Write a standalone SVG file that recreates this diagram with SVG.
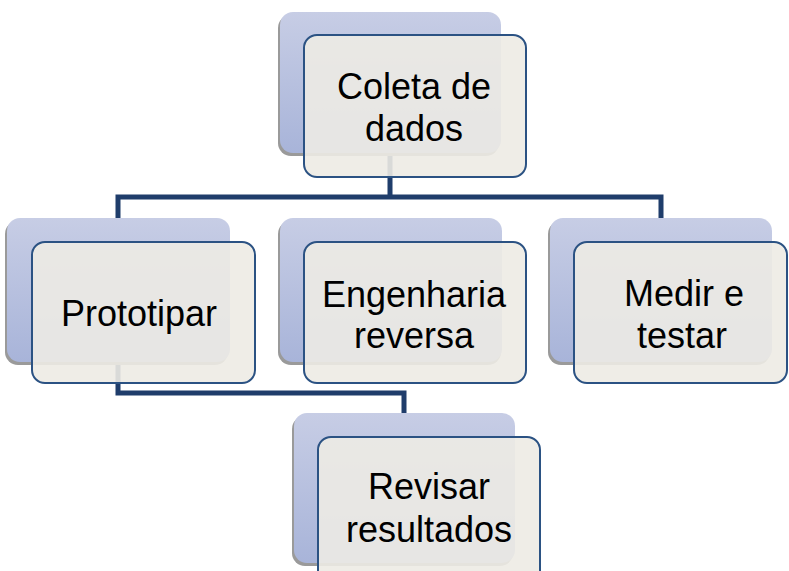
<svg xmlns="http://www.w3.org/2000/svg" width="789" height="571" viewBox="0 0 789 571">
<defs>
<linearGradient id="bg" x1="0" y1="0" x2="0" y2="1">
<stop offset="0" stop-color="#C7CDE5"/>
<stop offset="1" stop-color="#A8B4D9"/>
</linearGradient>
<style>
.sh{fill:#9a9a9a;}
.back{fill:url(#bg);}
.front{fill:#EDEBE4;fill-opacity:0.9;stroke:#2B5283;stroke-width:2;}
.conn{fill:none;stroke:#1F3D6B;stroke-width:5;stroke-linejoin:miter;}
text{font-family:"Liberation Sans",Arial,sans-serif;font-size:36px;fill:#000;text-anchor:middle;}
</style>
</defs>
<rect width="789" height="571" fill="#fff"/>
<g id="connectors">
<path class="conn" d="M390,150 V197 M118,220 V197 H661 V220"/>
<path class="conn" d="M118,360 V393 H404 V415"/>
</g>
<g id="coleta">
<rect class="sh" x="278" y="15" width="221" height="141" rx="13"/>
<rect class="back" x="280" y="12" width="221" height="141" rx="13"/>
<rect class="front" x="304" y="35" width="222" height="142" rx="13"/>
<text x="414" y="99">Coleta de</text>
<text x="414" y="141">dados</text>
</g>
<g id="prototipar">
<rect class="sh" x="5" y="221" width="223" height="144" rx="13"/>
<rect class="back" x="7" y="218" width="223" height="144" rx="13"/>
<rect class="front" x="32" y="242" width="223" height="141" rx="13"/>
<text x="139" y="326">Prototipar</text>
</g>
<g id="engenharia">
<rect class="sh" x="278" y="221" width="223" height="144" rx="13"/>
<rect class="back" x="280" y="218" width="222" height="144" rx="13"/>
<rect class="front" x="304" y="242" width="222" height="141" rx="13"/>
<text x="414" y="307">Engenharia</text>
<text x="414" y="348">reversa</text>
</g>
<g id="medir">
<rect class="sh" x="548" y="221" width="222" height="144" rx="13"/>
<rect class="back" x="550" y="218" width="222" height="144" rx="13"/>
<rect class="front" x="574" y="242" width="213" height="141" rx="13"/>
<text x="684" y="306">Medir e</text>
<text x="682" y="348">testar</text>
</g>
<g id="revisar">
<rect class="sh" x="292" y="416" width="221" height="150" rx="13"/>
<rect class="back" x="294" y="413" width="221" height="150" rx="13"/>
<rect class="front" x="318" y="437" width="222" height="150" rx="13"/>
<text x="429" y="499">Revisar</text>
<text x="429" y="542">resultados</text>
</g>
</svg>
